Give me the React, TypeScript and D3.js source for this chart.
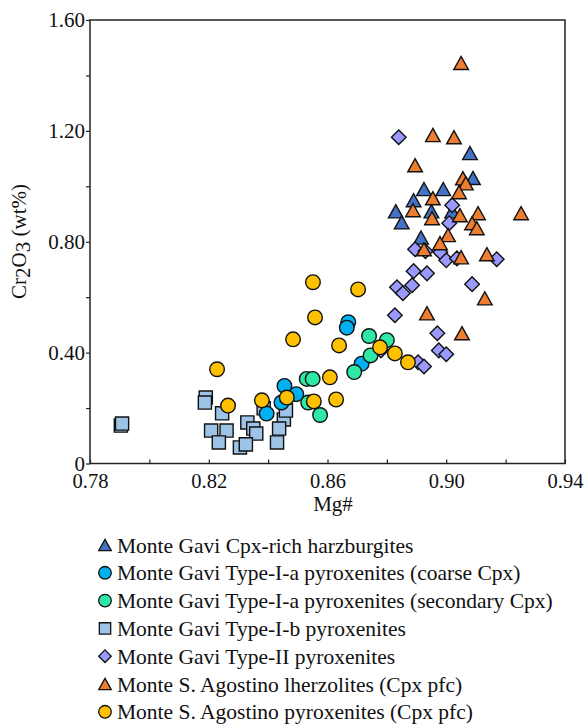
import React, { useRef, useEffect } from 'react';
import { select, scaleLinear, axisLeft, axisBottom } from 'd3';

// Mg#, Cr2O3 (wt%) pairs
const harzburgites = [[0.908, 1.12], [0.909, 1.03], [0.8925, 0.99], [0.899, 0.99], [0.889, 0.95], [0.883, 0.91], [0.895, 0.91], [0.902, 0.91], [0.885, 0.87], [0.8915, 0.815]];
const typeIaCoarse = [[0.867, 0.51], [0.8665, 0.49], [0.8715, 0.36], [0.8455, 0.28], [0.8495, 0.25], [0.8445, 0.22], [0.8395, 0.18]];
const typeIaSecondary = [[0.874, 0.46], [0.88, 0.445], [0.8745, 0.39], [0.869, 0.33], [0.853, 0.305], [0.855, 0.305], [0.8535, 0.22], [0.8575, 0.175]];
const typeIb = [[0.7904, 0.137], [0.7908, 0.144], [0.819, 0.238], [0.8187, 0.22], [0.8245, 0.181], [0.8208, 0.119], [0.826, 0.119], [0.8234, 0.076], [0.833, 0.148], [0.835, 0.126], [0.836, 0.108], [0.8305, 0.058], [0.8325, 0.069], [0.8385, 0.199], [0.8453, 0.159], [0.8437, 0.126], [0.843, 0.076], [0.846, 0.191]];
const typeII = [[0.884, 1.177], [0.902, 0.932], [0.901, 0.867], [0.8895, 0.773], [0.893, 0.766], [0.898, 0.762], [0.9, 0.733], [0.9036, 0.74], [0.917, 0.737], [0.889, 0.694], [0.8935, 0.686], [0.8834, 0.636], [0.8885, 0.643], [0.8854, 0.614], [0.9087, 0.647], [0.8827, 0.535], [0.897, 0.47], [0.8975, 0.408], [0.9, 0.394], [0.8905, 0.365], [0.8925, 0.35], [0.878, 0.408]];
const lherzolites = [[0.905, 1.445], [0.8955, 1.185], [0.9026, 1.177], [0.8895, 1.076], [0.9056, 1.029], [0.9066, 1.011], [0.9043, 0.979], [0.8955, 0.957], [0.8888, 0.914], [0.8952, 0.885], [0.9046, 0.896], [0.9107, 0.903], [0.9252, 0.903], [0.9087, 0.867], [0.9103, 0.849], [0.9006, 0.824], [0.8979, 0.795], [0.8925, 0.773], [0.905, 0.744], [0.9137, 0.755], [0.913, 0.596], [0.8935, 0.542], [0.9053, 0.47]];
const agostinoPyroxenites = [[0.8551, 0.654], [0.8703, 0.628], [0.8558, 0.527], [0.8484, 0.448], [0.8639, 0.426], [0.8777, 0.419], [0.8827, 0.397], [0.8871, 0.365], [0.8228, 0.34], [0.8608, 0.311], [0.8265, 0.209], [0.8379, 0.228], [0.8463, 0.238], [0.8554, 0.224], [0.8629, 0.231]];

const xTicks = [0.78, 0.8, 0.82, 0.84, 0.86, 0.88, 0.9, 0.92, 0.94];
const xLabels = ['0.78', '0.82', '0.86', '0.90', '0.94'];
const yTicks = [0, 0.2, 0.4, 0.6, 0.8, 1.0, 1.2, 1.4, 1.6];
const yLabels = ['0', '0.40', '0.80', '1.20', '1.60'];

const series = [
  { name: 'Monte Gavi Cpx-rich harzburgites', data: harzburgites, shape: 'triangle', color: '#4472C4' },
  { name: 'Monte Gavi Type-I-a pyroxenites (coarse Cpx)', data: typeIaCoarse, shape: 'circle', color: '#00B0F0' },
  { name: 'Monte Gavi Type-I-a pyroxenites (secondary Cpx)', data: typeIaSecondary, shape: 'circle', color: '#2EE8A6' },
  { name: 'Monte Gavi Type-I-b pyroxenites', data: typeIb, shape: 'square', color: '#9DC3E6' },
  { name: 'Monte Gavi Type-II pyroxenites', data: typeII, shape: 'diamond', color: '#9999FF' },
  { name: 'Monte S. Agostino lherzolites (Cpx pfc)', data: lherzolites, shape: 'triangle', color: '#ED7D31' },
  { name: 'Monte S. Agostino pyroxenites (Cpx pfc)', data: agostinoPyroxenites, shape: 'circle', color: '#FFC000' },
];
const drawOrder = [3, 0, 1, 2, 4, 5, 6];

function markerPath(shape, s) {
  // s = half width of the marker
  if (shape === 'triangle') return `M0,${-s * 0.9}L${s},${s * 0.9}L${-s},${s * 0.9}Z`;
  if (shape === 'square') return `M${-s * 0.9},${-s * 0.9}H${s * 0.9}V${s * 0.9}H${-s * 0.9}Z`;
  if (shape === 'diamond') return `M0,${-s}L${s},0L0,${s}L${-s},0Z`;
  return `M${s},0A${s},${s} 0 1,1 ${-s},0A${s},${s} 0 1,1 ${s},0Z`;
}

const FONT = '"Liberation Serif", "Times New Roman", serif';

function Chart() {
  const svgRef = useRef();

  useEffect(() => {
    const svg = select(svgRef.current);
    svg.selectAll('*').remove();

    const xScale = scaleLinear().domain([0.78, 0.94]).range([90, 565]);
    const yScale = scaleLinear().domain([0, 1.6]).range([463.5, 20]);

    // frame
    svg.append('rect')
      .attr('x', 90).attr('y', 20)
      .attr('width', 475).attr('height', 443.5)
      .attr('fill', 'none').attr('stroke', '#222').attr('stroke-width', 1.5);

    const yAxis = axisLeft(yScale)
      .tickValues(yTicks)
      .tickSize(4)
      .tickFormat(d => {
        const i = yLabels.findIndex(l => Math.abs(+l - d) < 1e-6);
        return i >= 0 ? yLabels[i] : '';
      });
    const gy = svg.append('g').attr('transform', 'translate(90,0)').call(yAxis);
    gy.select('.domain').remove();
    gy.selectAll('line').attr('stroke', '#222').attr('stroke-width', 1.2);
    gy.selectAll('text')
      .attr('font-family', FONT).attr('font-size', 21).attr('fill', '#111')
      .attr('x', -5).attr('dy', '0.32em');

    const xAxis = axisBottom(xScale)
      .tickValues(xTicks)
      .tickSize(-4)
      .tickFormat(d => {
        const i = xLabels.findIndex(l => Math.abs(+l - d) < 1e-6);
        return i >= 0 ? xLabels[i] : '';
      });
    const gx = svg.append('g').attr('transform', 'translate(0,463.5)').call(xAxis);
    gx.select('.domain').remove();
    gx.selectAll('line').attr('stroke', '#222').attr('stroke-width', 1.2);
    gx.selectAll('text')
      .attr('font-family', FONT).attr('font-size', 20.5).attr('fill', '#111')
      .attr('y', 24).attr('dy', 0);

    // axis titles
    const yTitle = svg.append('text')
      .attr('transform', 'translate(26,241.5) rotate(-90)')
      .attr('text-anchor', 'middle')
      .attr('font-family', FONT).attr('font-size', 21).attr('fill', '#111');
    yTitle.append('tspan').text('Cr');
    yTitle.append('tspan').attr('dy', 4).text('2');
    yTitle.append('tspan').attr('dy', -4).text('O');
    yTitle.append('tspan').attr('dy', 4).text('3');
    yTitle.append('tspan').attr('dy', -4).text(' (wt%)');

    svg.append('text')
      .attr('x', 333).attr('y', 511)
      .attr('text-anchor', 'middle')
      .attr('font-family', FONT).attr('font-size', 21).attr('fill', '#111')
      .text('Mg#');

    // points
    drawOrder.forEach(si => {
      const s = series[si];
      svg.append('g')
        .selectAll('path')
        .data(s.data)
        .join('path')
        .attr('d', markerPath(s.shape, 7.3))
        .attr('transform', d => `translate(${xScale(d[0])},${yScale(d[1])})`)
        .attr('fill', s.color)
        .attr('stroke', '#111')
        .attr('stroke-width', 1.4);
    });

    // legend
    const legend = svg.append('g');
    series.forEach((s, i) => {
      const cy = 545 + i * 27.8;
      legend.append('path')
        .attr('d', markerPath(s.shape, 6.3))
        .attr('transform', `translate(105,${cy})`)
        .attr('fill', s.color)
        .attr('stroke', '#111')
        .attr('stroke-width', 1.3);
      legend.append('text')
        .attr('x', 117).attr('y', cy).attr('dy', '0.35em')
        .attr('font-family', FONT).attr('font-size', 21.5).attr('fill', '#111')
        .text(s.name);
    });
  }, []);

  return <svg ref={svgRef} width={588} height={726} style={{ position: 'absolute', left: 0, top: 0, background: '#fff' }} />;
}

export default function App() {
  return <Chart />;
}
